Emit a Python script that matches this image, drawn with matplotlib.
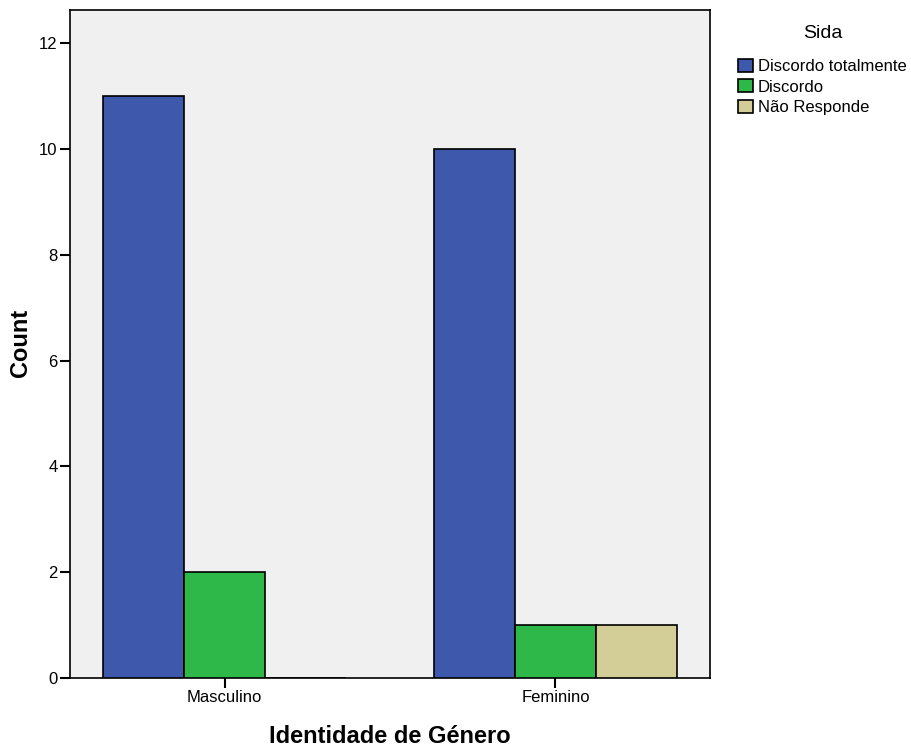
import matplotlib.pyplot as plt
import numpy as np

GROUPS = ["Masculino", "Feminino"]
SERIES = ["Discordo totalmente", "Discordo", "Não Responde"]
COUNTS = [
    [11, 10],  # Discordo totalmente
    [2, 1],    # Discordo
    [0, 1],    # Não Responde
]
COLORS = ["#3e58ac", "#2eb84a", "#d3ce97"]

plt.rcParams["font.family"] = ["Liberation Sans", "DejaVu Sans"]

fig = plt.figure(figsize=(9.12, 7.47), dpi=100)
ax = fig.add_axes([70 / 912, 1 - 678 / 747, 640 / 912, 668 / 747])
ax.set_facecolor("#f0f0f0")

x = np.arange(len(GROUPS))
w = 0.245
for i, (name, vals) in enumerate(zip(SERIES, COUNTS)):
    ax.bar(x + (i - 1) * w, vals, w, color=COLORS[i], edgecolor="black",
           linewidth=1.2, label=name, zorder=3)

ax.set_xlim(-0.467, 1.467)
ax.set_ylim(0, 12.63)
ax.set_yticks(range(0, 13, 2))
ax.set_xticks(x)
ax.set_xticklabels(GROUPS)
ax.tick_params(axis="both", labelsize=12, width=1.5, length=7, direction="out", pad=2)
for s in ax.spines.values():
    s.set_linewidth(1.2)

ax.set_ylabel("Count", fontsize=17, fontweight="bold", va="center")
ax.yaxis.set_label_coords(-0.078, 0.5015)
ax.set_xlabel("Identidade de Género", fontsize=17, fontweight="bold", va="center")
ax.xaxis.set_label_coords(0.5, -0.087)

leg = fig.legend(loc="upper left", bbox_to_anchor=(733 / 912, 1 - 20 / 747),
                 title="Sida", title_fontsize=14, fontsize=12, frameon=False,
                 handlelength=0.9, handleheight=0.85, handletextpad=0.3,
                 labelspacing=0.3, borderaxespad=0, borderpad=0.3)
leg._legend_box.sep = 12

fig.savefig("out.png", dpi=100, facecolor="white")
